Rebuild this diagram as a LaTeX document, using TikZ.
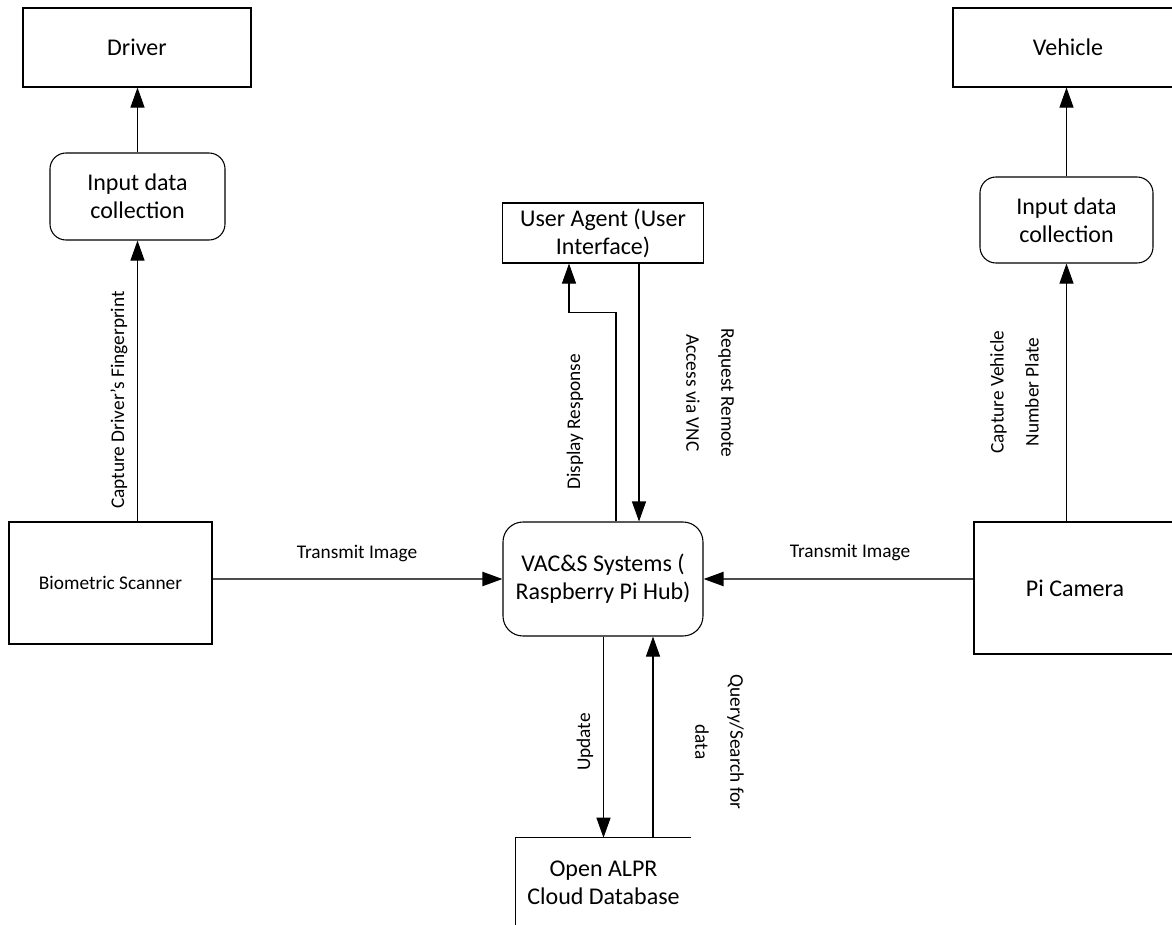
\documentclass[tikz,border=0pt]{standalone}
\usepackage{fontspec}
\setmainfont{Carlito}
\usetikzlibrary{arrows.meta,calc}
\tikzstyle{entity}=[draw,line width=0.8pt,inner sep=0pt,align=center,font=\fontsize{18}{21}\selectfont]
\tikzstyle{process}=[entity,rounded corners=12pt]
\tikzstyle{store}=[inner sep=0pt,align=center,font=\fontsize{18}{21}\selectfont]
\tikzstyle{flow}=[draw,line width=0.8pt,-{Triangle[length=15pt,width=10.5pt]}]
\tikzstyle{wire}=[draw,line width=1.6pt,black!70,-{Triangle[length=15pt,width=10.5pt,color=black]}]
\tikzstyle{lbl}=[inner sep=0pt,align=center,font=\fontsize{14.5}{26.25}\selectfont]

\begin{document}
\begin{tikzpicture}[x=0.75pt,y=-0.75pt]
    \useasboundingbox (0,0) rectangle (1172,925);
    \clip (0,0) rectangle (1172,925);
    % External entities and processes
    \node[entity,minimum width=171pt,minimum height=59.25pt] (driver) at (137,47.5) {Driver};
    \node[process,minimum width=131.25pt,minimum height=65.25pt] (inL) at (137.5,196.5) {Input data\\collection};
    \node[entity,minimum width=152.25pt,minimum height=91.5pt,font=\fontsize{14.5}{18}\selectfont] (bio) at (110.5,583) {Biometric Scanner};
    \node[process,rounded corners=15pt,minimum width=150pt,minimum height=85.5pt] (vac) at (603,579) {VAC\&S Systems (\\Raspberry Pi Hub)};
    \node[entity,minimum width=150.75pt,minimum height=45pt] (ua) at (603,233) {User Agent (User\\Interface)};
    \node[entity,minimum width=172.5pt,minimum height=59.25pt] (veh) at (1068,47.5) {Vehicle};
    \node[process,minimum width=129.75pt,minimum height=64.5pt] (inR) at (1066.5,220) {Input data\\collection};
    \node[entity,minimum width=151.5pt,minimum height=99pt] (picam) at (1075,588) {Pi Camera};
    \node[store,minimum width=131.25pt,minimum height=67.5pt] (db) at (603.5,883) {Open ALPR\\Cloud Database};
    \draw[line width=0.8pt] (db.north east) -- (db.north west) -- (db.south west) -- (db.south east);

    % Data flows
    \foreach \source/\dest in {inL/driver, inR/veh}
        \path[flow] (\source.north) -- (\source.north |- \dest.south);
    \foreach \source/\dest in {bio/inL, picam/inR}
        \path[flow] (\source.north -| \dest.south) -- (\dest.south);
    \path[wire] (bio.east |- vac.west) -- (vac.west);
    \path[wire] (picam.west |- vac.east) -- (vac.east);
    \path[flow] ($(vac.north)+(13,0)$) -- ++(0,-209) -| ($(ua.south)+(-34,0)$);
    \path[flow] ($(ua.south)+(36,0)$) -- ($(vac.north)+(36,0)$);
    \path[flow] (vac.south -| db.north) -- (db.north);
    \path[flow] ($(db.north)+(49.5,0)$) -- ($(vac.south)+(50,0)$);

    % Flow labels
    \node[lbl,rotate=90] (fpLbl) at (119,400) {Capture Driver’s Fingerprint};
    \node[lbl] (tiLLbl) at (357,554) {Transmit Image};
    \node[lbl] (tiRLbl) at (850,553) {Transmit Image};
    \node[lbl,rotate=90] (drLbl) at (575,422) {Display Response};
    \node[lbl,rotate=-90] (rrLbl) at (710,393) {Request Remote\\Access via VNC};
    \node[lbl,rotate=90] (upLbl) at (585,742) {Update};
    \node[lbl,rotate=-90] (qsLbl) at (719.5,742) {Query/Search for\\data};
    \node[lbl,rotate=90] (cvLbl) at (1014.5,392) {Capture Vehicle\\Number Plate};
\end{tikzpicture}
\end{document}
